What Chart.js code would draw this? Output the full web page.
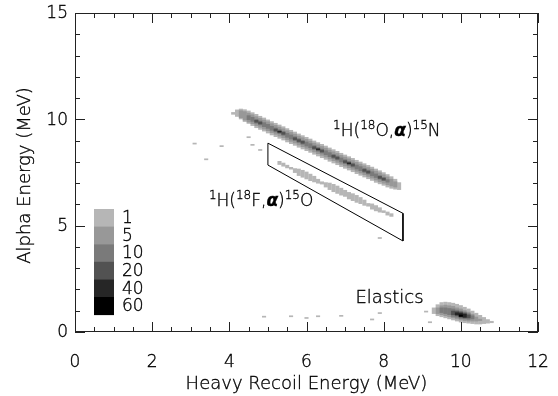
<!DOCTYPE html>
<html>
<head>
<meta charset="utf-8">
<script src="https://cdn.jsdelivr.net/npm/chart.js@4.4.0/dist/chart.umd.min.js"></script>
<style>
  html, body { margin: 0; padding: 0; background: #fff; }
</style>
</head>
<body>
<canvas id="chart" width="558" height="396"></canvas>
<script>
// axis ticks
const xTickLabels = [0, 2, 4, 6, 8, 10, 12];
const yTickLabels = [0, 5, 10, 15];

// count levels of the 2D histogram, light to dark
const countLevels = [1, 5, 10, 20, 40, 60];
const levelColors = ["#b6b6b6", "#989898", "#7a7a7a", "#525252", "#262626", "#000000"];

// cells: [recoil energy, alpha low, alpha high]
// 1H(18O,a)15N band
const o18Level1 = [
  [4.1, 10.22, 10.34], [4.2, 10.12, 10.46], [4.3, 10.0, 10.5], [4.4, 9.88, 10.47], [4.5, 9.79, 10.41],
  [4.6, 9.69, 10.33], [4.7, 9.59, 10.25], [4.8, 9.51, 10.16], [4.9, 9.43, 10.08], [5.0, 9.34, 9.99],
  [5.1, 9.25, 9.91], [5.2, 9.17, 9.83], [5.3, 9.09, 9.75], [5.4, 9.01, 9.67], [5.5, 8.92, 9.58],
  [5.6, 8.84, 9.50], [5.7, 8.76, 9.42], [5.8, 8.67, 9.33], [5.9, 8.59, 9.25], [6.0, 8.51, 9.17],
  [6.1, 8.43, 9.09], [6.2, 8.34, 9.00], [6.3, 8.26, 8.92], [6.4, 8.18, 8.84], [6.5, 8.10, 8.76],
  [6.6, 8.01, 8.67], [6.7, 7.93, 8.59], [6.8, 7.85, 8.51], [6.9, 7.76, 8.42], [7.0, 7.68, 8.34],
  [7.1, 7.60, 8.26], [7.2, 7.52, 8.18], [7.3, 7.43, 8.09], [7.4, 7.35, 8.01], [7.5, 7.27, 7.93],
  [7.6, 7.19, 7.85], [7.7, 7.11, 7.77], [7.8, 7.02, 7.68], [7.9, 6.95, 7.60], [8.0, 6.88, 7.51],
  [8.1, 6.80, 7.42], [8.2, 6.74, 7.32], [8.3, 6.70, 7.20], [8.4, 6.68, 7.04]
];
const o18Level5 = [
  [4.3, 10.06, 10.42], [4.4, 9.95, 10.38], [4.5, 9.86, 10.31], [4.6, 9.78, 10.23], [4.7, 9.69, 10.14],
  [4.8, 9.61, 10.06], [4.9, 9.53, 9.98], [5.0, 9.45, 9.90], [5.1, 9.36, 9.81], [5.2, 9.28, 9.73],
  [5.3, 9.20, 9.65], [5.4, 9.12, 9.57], [5.5, 9.03, 9.48], [5.6, 8.95, 9.40], [5.7, 8.87, 9.32],
  [5.8, 8.78, 9.23], [5.9, 8.70, 9.15], [6.0, 8.62, 9.07], [6.1, 8.54, 8.99], [6.2, 8.45, 8.90],
  [6.3, 8.37, 8.82], [6.4, 8.29, 8.74], [6.5, 8.21, 8.66], [6.6, 8.12, 8.57], [6.7, 8.04, 8.49],
  [6.8, 7.96, 8.41], [6.9, 7.87, 8.32], [7.0, 7.79, 8.24], [7.1, 7.71, 8.16], [7.2, 7.63, 8.08],
  [7.3, 7.54, 7.99], [7.4, 7.46, 7.91], [7.5, 7.38, 7.83], [7.6, 7.30, 7.75], [7.7, 7.22, 7.67],
  [7.8, 7.13, 7.58], [7.9, 7.05, 7.50], [8.0, 6.98, 7.41], [8.1, 6.91, 7.31], [8.2, 6.85, 7.20],
  [8.3, 6.80, 7.08]
];
const o18Level10 = [
  [4.5, 9.97, 10.19], [4.6, 9.89, 10.11], [4.7, 9.80, 10.02], [4.8, 9.72, 9.94], [4.9, 9.64, 9.86],
  [5.0, 9.56, 9.78], [5.1, 9.47, 9.69], [5.2, 9.39, 9.61], [5.3, 9.31, 9.53], [5.4, 9.23, 9.45],
  [5.5, 9.14, 9.36], [5.6, 9.06, 9.28], [5.7, 8.98, 9.20], [5.8, 8.89, 9.11], [5.9, 8.81, 9.03],
  [6.0, 8.73, 8.95], [6.1, 8.65, 8.87], [6.2, 8.56, 8.78], [6.3, 8.48, 8.70], [6.4, 8.40, 8.62],
  [6.5, 8.32, 8.54], [6.6, 8.23, 8.45], [6.7, 8.15, 8.37], [6.8, 8.07, 8.29], [6.9, 7.98, 8.20],
  [7.0, 7.90, 8.12], [7.1, 7.82, 8.04], [7.2, 7.74, 7.96], [7.3, 7.65, 7.87], [7.4, 7.57, 7.79],
  [7.5, 7.49, 7.71], [7.6, 7.41, 7.63], [7.7, 7.33, 7.55], [7.8, 7.25, 7.45], [7.9, 7.17, 7.37],
  [8.0, 7.10, 7.28], [8.1, 7.03, 7.18]
];
const o18Level20 = [
  [4.7, 9.85, 9.97], [4.8, 9.77, 9.89], [5.2, 9.44, 9.56], [5.3, 9.36, 9.48], [5.4, 9.28, 9.40],
  [5.7, 9.03, 9.15], [5.8, 8.94, 9.06], [5.9, 8.86, 8.98], [6.2, 8.61, 8.73], [6.3, 8.53, 8.65],
  [6.4, 8.45, 8.57], [6.7, 8.20, 8.32], [6.8, 8.12, 8.24], [7.0, 7.95, 8.07], [7.1, 7.87, 7.99],
  [7.2, 7.79, 7.91], [7.5, 7.54, 7.66], [7.6, 7.46, 7.58], [7.9, 7.21, 7.33], [8.0, 7.13, 7.25]
];
const o18Level40 = [[5.3, 9.39, 9.45], [6.3, 8.56, 8.62], [7.1, 7.90, 7.96]];

// 1H(18F,a)15O band
const f18Level1 = [
  [5.3, 7.86, 8.04], [5.4, 7.78, 7.96], [5.5, 7.70, 7.86], [5.6, 7.64, 7.76], [5.7, 7.48, 7.70],
  [5.8, 7.34, 7.68], [5.9, 7.26, 7.62], [6.0, 7.18, 7.54], [6.1, 7.10, 7.44], [6.2, 7.04, 7.34],
  [6.3, 6.98, 7.20], [6.4, 6.94, 7.08], [6.5, 6.80, 7.04], [6.6, 6.68, 7.02], [6.7, 6.58, 6.96],
  [6.8, 6.50, 6.88], [6.9, 6.42, 6.78], [7.0, 6.36, 6.68], [7.1, 6.24, 6.58], [7.2, 6.16, 6.52],
  [7.3, 6.08, 6.44], [7.4, 6.02, 6.34], [7.5, 5.94, 6.22], [7.6, 5.90, 6.06], [7.7, 5.76, 6.04],
  [7.8, 5.68, 5.96], [7.9, 5.62, 5.86], [8.0, 5.60, 5.72], [8.1, 5.48, 5.66], [8.2, 5.42, 5.58]
];

// elastic scattering peak
const elasticLevel1 = [
  [9.3, 0.85, 1.15], [9.4, 0.75, 1.3], [9.5, 0.7, 1.4], [9.6, 0.65, 1.42], [9.7, 0.6, 1.4],
  [9.8, 0.55, 1.37], [9.9, 0.5, 1.32], [10.0, 0.45, 1.26], [10.1, 0.42, 1.18], [10.2, 0.4, 1.1],
  [10.3, 0.38, 1.0], [10.4, 0.36, 0.9], [10.5, 0.36, 0.8], [10.6, 0.38, 0.7], [10.7, 0.4, 0.6],
  [10.8, 0.42, 0.52]
];
const elasticLevel5 = [
  [9.4, 0.85, 1.15], [9.5, 0.8, 1.25], [9.6, 0.75, 1.28], [9.7, 0.7, 1.25], [9.8, 0.65, 1.22],
  [9.9, 0.6, 1.15], [10.0, 0.55, 1.1], [10.1, 0.52, 1.02], [10.2, 0.5, 0.95], [10.3, 0.5, 0.85],
  [10.4, 0.5, 0.72], [10.5, 0.52, 0.62]
];
const elasticLevel10 = [
  [9.5, 0.9, 1.15], [9.6, 0.85, 1.15], [9.7, 0.8, 1.12], [9.8, 0.72, 1.1], [9.9, 0.68, 1.05],
  [10.0, 0.62, 1.0], [10.1, 0.6, 0.95], [10.2, 0.58, 0.88], [10.3, 0.6, 0.78]
];
const elasticLevel20 = [[9.8, 0.8, 1.0], [9.9, 0.75, 0.98], [10.0, 0.68, 0.95], [10.1, 0.65, 0.9], [10.2, 0.65, 0.82]];
const elasticLevel40 = [[9.9, 0.8, 0.92], [10.0, 0.72, 0.9], [10.1, 0.68, 0.85]];
const elasticLevel60 = [[10.0, 0.72, 0.82]];

// isolated single counts
const strayCells = [
  [3.1, 8.82, 8.9], [3.4, 8.08, 8.16], [3.8, 8.7, 8.78], [4.5, 9.12, 9.2], [4.6, 8.76, 8.84],
  [4.8, 8.52, 8.6], [7.9, 4.38, 4.46], [4.9, 0.68, 0.76], [5.6, 0.7, 0.78], [6.0, 0.62, 0.7],
  [6.3, 0.7, 0.78], [6.9, 0.72, 0.8], [7.7, 0.55, 0.63], [7.9, 0.85, 0.93], [9.1, 0.92, 1.0],
  [9.2, 0.42, 0.5]
];

// software gate around the 18F events
const gateX = [5.0, 8.5, 8.5, 5.0, 5.0];
const gateY = [8.88, 5.58, 4.28, 7.85, 8.88];

const cellsByLevel = [
  [...o18Level1, ...f18Level1, ...elasticLevel1, ...strayCells],
  [...o18Level5, ...elasticLevel5],
  [...o18Level10, ...elasticLevel10],
  [...o18Level20, ...elasticLevel20],
  [...o18Level40, ...elasticLevel40],
  [...elasticLevel60]
];

const FONT = "'DejaVu Sans', sans-serif";
const WEIGHT = "200 ";
const INK = "#000";

const datasets = cellsByLevel.map((cells, i) => ({
  type: "bar",
  data: cells.map(c => ({ x: c[0], y: [c[1], c[2]] })),
  backgroundColor: levelColors[i],
  borderWidth: 0,
  grouped: false,
  barPercentage: 1.06,
  categoryPercentage: 1,
  order: 10 - i
}));
datasets.push({
  type: "line",
  data: gateX.map((x, i) => ({ x, y: gateY[i] })),
  borderColor: "#000",
  borderWidth: 1,
  pointRadius: 0,
  tension: 0,
  fill: false,
  order: 0
});

// thin strokes look faint, so trace the outline too
function txt(ctx, s, x, y) {
  ctx.fillText(s, x, y);
  ctx.strokeText(s, x, y);
}

// label drawn as runs: [text, size, raise, italic]
function drawRuns(ctx, x, y, runs) {
  let px = x;
  runs.forEach(r => {
    ctx.font = (r[3] ? "italic bold " : WEIGHT) + r[1] + "px " + FONT;
    txt(ctx, r[0], px, y - r[2]);
    px += ctx.measureText(r[0]).width;
  });
}

const reactionO = [["1", 12, 7], ["H(", 17, 0], ["18", 12, 7], ["O,", 17, 0], ["α", 17, 0, true], [")", 17, 0], ["15", 12, 7], ["N", 17, 0]];
const reactionF = [["1", 12, 7], ["H(", 17, 0], ["18", 12, 7], ["F,", 17, 0], ["α", 17, 0, true], [")", 17, 0], ["15", 12, 7], ["O", 17, 0]];

const decor = {
  id: "decor",
  afterDatasetsDraw(chart) {
    const { ctx, chartArea: a, scales: { x, y } } = chart;
    ctx.save();
    ctx.strokeStyle = "#222";
    ctx.lineWidth = 1;
    ctx.strokeRect(a.left + 0.5, a.top + 0.5, a.right - a.left - 1, a.bottom - a.top - 1);

    // inward ticks on all four sides
    ctx.beginPath();
    for (let v = 0; v <= 12; v += 0.5) {
      const p = Math.round(x.getPixelForValue(v)) + 0.5;
      const len = v % 2 === 0 ? 10 : 5;
      ctx.moveTo(p, a.bottom); ctx.lineTo(p, a.bottom - len);
      ctx.moveTo(p, a.top); ctx.lineTo(p, a.top + len);
    }
    for (let v = 0; v <= 15; v += 1) {
      const p = Math.round(y.getPixelForValue(v)) + 0.5;
      const len = v % 5 === 0 ? 10 : 5;
      ctx.moveTo(a.left, p); ctx.lineTo(a.left + len, p);
      ctx.moveTo(a.right, p); ctx.lineTo(a.right - len, p);
    }
    ctx.stroke();

    // tick labels and axis titles
    ctx.fillStyle = INK;
    ctx.strokeStyle = INK;
    ctx.lineWidth = 0.35;
    ctx.font = WEIGHT + "17px " + FONT;
    ctx.textBaseline = "middle";
    ctx.textAlign = "center";
    xTickLabels.forEach(v => txt(ctx, String(v), x.getPixelForValue(v), a.bottom + 31));
    ctx.textAlign = "right";
    yTickLabels.forEach(v => txt(ctx, String(v), a.left - 7, y.getPixelForValue(v) + 1));
    ctx.textAlign = "center";
    ctx.font = WEIGHT + "18px " + FONT;
    txt(ctx, "Heavy Recoil Energy (MeV)", (a.left + a.right) / 2, a.bottom + 52);
    ctx.save();
    ctx.translate(25, (a.top + a.bottom) / 2 + 3);
    ctx.rotate(-Math.PI / 2);
    txt(ctx, "Alpha Energy (MeV)", 0, 0);
    ctx.restore();

    // count legend
    ctx.textAlign = "left";
    const bx = a.left + 19, by = a.top + 196, bh = 17.6;
    countLevels.forEach((c, i) => {
      ctx.fillStyle = levelColors[i];
      ctx.fillRect(bx, by + i * bh, 20, bh + 0.5);
      ctx.fillStyle = INK;
      ctx.font = WEIGHT + "17px " + FONT;
      txt(ctx, String(c), bx + 28, by + i * bh + bh / 2 + 1);
    });

    // reaction labels
    ctx.textBaseline = "alphabetic";
    drawRuns(ctx, x.getPixelForValue(6.69), y.getPixelForValue(9.2), reactionO);
    drawRuns(ctx, x.getPixelForValue(3.47), y.getPixelForValue(5.92), reactionF);
    ctx.font = WEIGHT + "18px " + FONT;
    txt(ctx, "Elastics", x.getPixelForValue(7.27), y.getPixelForValue(1.38));
    ctx.restore();
  }
};

new Chart(document.getElementById("chart"), {
  type: "bar",
  data: { datasets },
  options: {
    responsive: false,
    animation: false,
    layout: { padding: { left: 0, right: 20, top: 13, bottom: 0 } },
    plugins: { legend: { display: false }, tooltip: { enabled: false } },
    scales: {
      x: {
        type: "linear", min: 0, max: 12, offset: false,
        afterFit: s => { s.height = 64; },
        grid: { display: false, drawTicks: false },
        border: { display: false },
        ticks: { display: false }
      },
      y: {
        type: "linear", min: 0, max: 15,
        afterFit: s => { s.width = 75; },
        grid: { display: false, drawTicks: false },
        border: { display: false },
        ticks: { display: false }
      }
    }
  },
  plugins: [decor]
});
</script>
</body>
</html>
